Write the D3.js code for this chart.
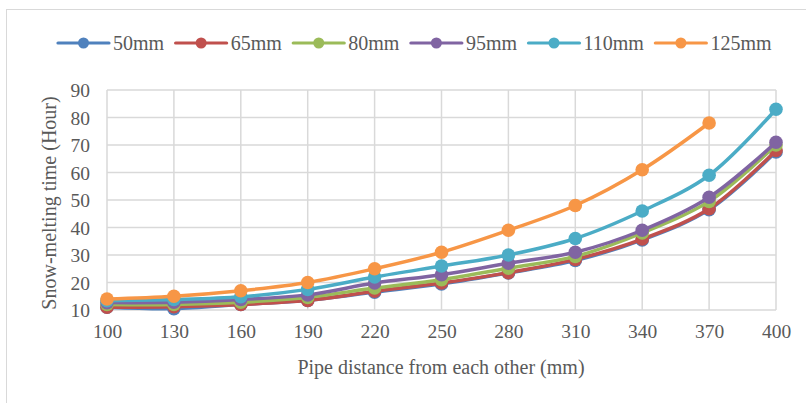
<!DOCTYPE html>
<html>
<head>
<meta charset="utf-8">
<script src="https://cdn.jsdelivr.net/npm/d3@7"></script>
<style>
body{margin:0;background:#fff}
svg text{font-family:"Liberation Serif","Times New Roman",serif;fill:#595959}
</style>
</head>
<body>
<div class="chart"></div>
<script>
var categories = [100,130,160,190,220,250,280,310,340,370,400]
var seriesNames = ["50mm","65mm","80mm","95mm","110mm","125mm"]
var s50 = [11,10.5,12,13.5,16.5,19.5,23.5,28,35.5,46.5,67.5]
var s65 = [11,11.2,12,13.5,16.8,19.8,23.6,28.4,35.8,46.8,68]
var s80 = [12,12,12.8,14.6,18,21,25.2,29.5,38,49.5,70]
var s95 = [12.7,12.8,13.8,15.5,19.8,22.8,27,31,39,51,71]
var s110 = [13.4,13.8,14.8,17.5,22,26,30,36,46,59,83]
var s125 = [14,15,17,20,25,31,39,48,61,78,null]
var yTicks = [10,20,30,40,50,60,70,80,90]
var colors = ["#4F81BD","#C0504D","#9BBB59","#8064A2","#4BACC6","#F79646"]

var width = 806, height = 403
var svg = d3.select(".chart").append("svg").attr("width",width).attr("height",height)

// chart border (only top and left visible)
svg.append("rect").attr("x",6.5).attr("y",9.5).attr("width",900).attr("height",500)
	.attr("fill","none").attr("stroke","#d9d9d9").attr("stroke-width",1)

//scales
var plotLeft = 107, plotRight = 776, plotTop = 90, plotBottom = 310
var xPos = d3.scalePoint().domain(categories).range([plotLeft,plotRight])
var yPos = d3.scaleLinear().domain([10,90]).range([plotBottom,plotTop])

//grid
var grid = svg.append("g").attr("class","grid")
grid.selectAll("line.h").data(yTicks).enter().append("line")
	.attr("x1",plotLeft).attr("x2",plotRight)
	.attr("y1",function(d){return yPos(d)}).attr("y2",function(d){return yPos(d)})
	.attr("stroke","#d9d9d9").attr("stroke-width",1.5)
grid.selectAll("line.v").data(categories).enter().append("line")
	.attr("y1",plotTop).attr("y2",plotBottom)
	.attr("x1",function(d){return xPos(d)}).attr("x2",function(d){return xPos(d)})
	.attr("stroke","#d9d9d9").attr("stroke-width",1.5)

//axes
var yAxis = svg.append("g").attr("transform","translate("+(plotLeft-17)+",0)")
	.call(d3.axisLeft(yPos).tickValues(yTicks).tickSize(0).tickPadding(0))
yAxis.select(".domain").remove()
yAxis.selectAll("text").style("font-size","19.5px").attr("dy","0.34em").attr("fill","#595959")

var xAxis = svg.append("g").attr("transform","translate(0,"+(plotBottom+13)+")")
	.call(d3.axisBottom(xPos).tickSize(0).tickPadding(0))
xAxis.select(".domain").remove()
xAxis.selectAll("text").style("font-size","19.5px").attr("dy","0.75em").attr("fill","#595959")

//titles
svg.append("text").attr("x",441).attr("y",374).attr("text-anchor","middle")
	.style("font-size","20px").text("Pipe distance from each other (mm)")
svg.append("text").attr("transform","translate(56,"+((plotTop+plotBottom)/2+3)+") rotate(-90)")
	.attr("text-anchor","middle").style("font-size","20px").text("Snow-melting time (Hour)")

//series
var allSeries = [s50,s65,s80,s95,s110,s125]
var line = d3.line()
	.defined(function(d){return d.v != null})
	.x(function(d){return xPos(d.c)})
	.y(function(d){return yPos(d.v)})
	.curve(d3.curveCatmullRom.alpha(0.5))

allSeries.forEach(function(values,i){
	var pts = categories.map(function(c,j){return {c:c,v:values[j]}})
	var group = svg.append("g").attr("class","series s"+i)
	group.append("path").datum(pts).attr("d",line)
		.attr("fill","none").attr("stroke",colors[i]).attr("stroke-width",3.5)
		.attr("stroke-linejoin","round")
	group.selectAll("circle").data(pts.filter(function(d){return d.v != null})).enter()
		.append("circle")
		.attr("cx",function(d){return xPos(d.c)})
		.attr("cy",function(d){return yPos(d.v)})
		.attr("r",6.8)
		.attr("fill",colors[i])
})

//legend
var legend = svg.append("g").attr("class","legend")
var lx = 58, ly = 43
seriesNames.forEach(function(name,i){
	var item = legend.append("g").attr("transform","translate("+lx+","+ly+")")
	item.append("line").attr("x1",0).attr("x2",51).attr("y1",0).attr("y2",0)
		.attr("stroke",colors[i]).attr("stroke-width",3.2).attr("stroke-linecap","round")
	item.append("circle").attr("cx",25.5).attr("cy",0).attr("r",5.5).attr("fill",colors[i])
	var t = item.append("text").attr("x",55).attr("y",0).attr("dy","0.34em")
		.style("font-size","20px").text(name)
	lx += 55 + t.node().getComputedTextLength() + 11.5
})
</script>
</body>
</html>
